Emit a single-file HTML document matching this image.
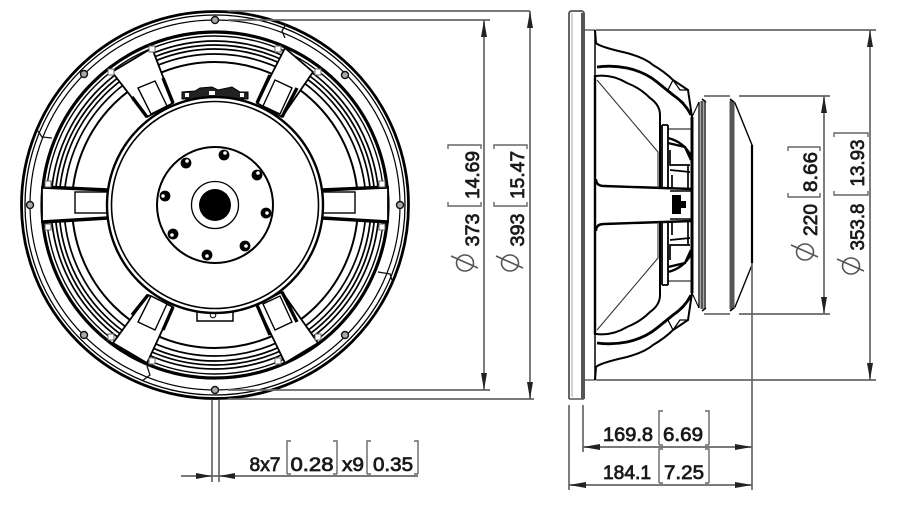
<!DOCTYPE html>
<html><head><meta charset="utf-8"><style>
html,body{margin:0;padding:0;background:#fff}
svg{display:block;filter:blur(.35px)}
text{font-family:"Liberation Sans",sans-serif;font-size:19px;fill:#1a1a1a;stroke:#1a1a1a;stroke-width:.75;text-anchor:middle}
.d{stroke:#666;stroke-width:1.7;fill:none}
.br{stroke:#666;stroke-width:1.4;fill:none}
.a{fill:#222;stroke:none}
.k{stroke:#000;fill:none}
</style></head><body>
<svg width="900" height="509" viewBox="0 0 900 509" xmlns="http://www.w3.org/2000/svg">
<rect width="900" height="509" fill="#fff"/>

<!-- FRONT VIEW -->
<g class="k">
<circle cx="215" cy="205" r="193.5" stroke-width="2.8"/>
<circle cx="215" cy="205" r="190" stroke-width="1.3"/>
<circle cx="215" cy="205" r="185" stroke-width="1.2"/>
<circle cx="215" cy="205" r="173" stroke-width="3.2"/>
<circle cx="215" cy="205" r="169" stroke-width="1.4"/>
<g stroke-width="1.7">
<circle cx="215" cy="205" r="164"/><circle cx="215" cy="205" r="160"/>
<circle cx="215" cy="205" r="156"/><circle cx="215" cy="205" r="151"/>
</g>
<circle cx="215" cy="205" r="143" stroke-width="2"/>
</g>

<!-- seams -->
<g fill="none" stroke="#111" stroke-width="1.3">
<path d="M38 131 L42 137 L52 138"/>
<path d="M286 24 L282 31 L285 38"/>
<path d="M378 272 L390 274 L392 280"/>
<path d="M147 366 L150 375 L142 381"/>
</g>

<!-- outer bolts -->
<g fill="#aaa" stroke="#111" stroke-width="1.4">
<circle cx="30" cy="205" r="3.5"/><circle cx="84" cy="74" r="3.5"/>
<circle cx="215" cy="20" r="3.5"/><circle cx="345" cy="75" r="3.5"/>
<circle cx="400" cy="205" r="3.5"/><circle cx="345" cy="335" r="3.5"/>
<circle cx="215" cy="390" r="3.5"/><circle cx="84" cy="335" r="3.5"/>
</g>

<!-- spokes -->
<g fill="#fff" stroke="#000" stroke-width="1.8">
<polygon points="112,72 152,48 173,103 147,117"/>
<polygon points="285,48 313,72 282,117 257,103"/>
<polygon points="42,187 108,190 108,218 42,222"/>
<polygon points="388,187 322,190 322,218 388,222"/>
<polygon points="113,343 147,363 173,307 148,295"/>
<polygon points="285,363 318,343 282,292 257,305"/>
</g>
<g stroke="#000" stroke-width="3.4" fill="none">
<path d="M42 187 L108 190"/><path d="M42 222 L108 218"/>
<path d="M388 187 L322 190"/><path d="M388 222 L322 218"/>
<path d="M132 97 L147 117"/><path d="M163 78 L173 103"/>
<path d="M297 88 L282 117"/><path d="M270 75 L257 103"/>
<path d="M132 315 L148 295"/><path d="M163 330 L173 307"/>
<path d="M297 322 L282 292"/><path d="M270 335 L257 305"/>
</g>
<g fill="#fff" stroke="#000" stroke-width="1.4">
<rect x="75" y="192" width="33" height="21"/>
<rect x="322" y="192" width="33" height="21"/>
<polygon points="138,88 155,81 167,106 151,114"/>
<polygon points="275,80 292,88 280,114 263,106"/>
<polygon points="138,322 155,330 167,304 151,296"/>
<polygon points="275,330 292,322 280,296 263,304"/>
</g>
<g fill="#fff" stroke="#666" stroke-width="1">
<rect x="45" y="181" width="6" height="6"/><rect x="45" y="224" width="6" height="6"/>
<rect x="379" y="181" width="6" height="6"/><rect x="379" y="224" width="6" height="6"/>
<rect x="108" y="69" width="6" height="6"/><rect x="149" y="46" width="6" height="6"/>
<rect x="275" y="46" width="6" height="6"/><rect x="315" y="69" width="6" height="6"/>
<rect x="108" y="334" width="6" height="6"/><rect x="149" y="358" width="6" height="6"/>
<rect x="275" y="358" width="6" height="6"/><rect x="315" y="334" width="6" height="6"/>
</g>

<!-- terminals -->
<path d="M182 99 L182 92 L195 91 L200 88 L212 87 L218 90 L232 87 L240 92 L248 92 L248 99 Z" fill="#222" stroke="#000" stroke-width="1"/>
<g fill="#fff"><rect x="185" y="93" width="4" height="4"/><rect x="209" y="91" width="6" height="4"/><rect x="240" y="93" width="4" height="4"/></g>
<path d="M197 308 L197 321 L233 321 L233 308" fill="#fff" stroke="#000" stroke-width="1.5"/>
<circle cx="213" cy="315" r="2.8" fill="#fff" stroke="#000" stroke-width="1"/>

<!-- centre -->
<circle cx="215" cy="205" r="108" fill="#fff" stroke="#000" stroke-width="2.4"/>
<circle cx="215" cy="205" r="103.5" fill="#fff" stroke="#000" stroke-width="1.6"/>
<circle cx="215" cy="205" r="58" fill="#fff" stroke="#000" stroke-width="2"/>
<circle cx="215" cy="205" r="23.5" fill="#fff" stroke="#000" stroke-width="1.3"/>
<circle cx="215" cy="205" r="16" fill="#000"/>
<g fill="#000">
<circle cx="224" cy="155" r="5.4"/><circle cx="186" cy="163" r="5.4"/>
<circle cx="257" cy="175" r="5.4"/><circle cx="165" cy="196" r="5.4"/>
<circle cx="266" cy="213" r="5.4"/><circle cx="173" cy="234" r="5.4"/>
<circle cx="245" cy="246" r="5.4"/><circle cx="207" cy="255" r="5.4"/>
</g>
<g fill="#fff">
<circle cx="225" cy="153" r="1.8"/><circle cx="187" cy="161" r="1.8"/>
<circle cx="258" cy="173" r="1.8"/><circle cx="163" cy="196" r="1.8"/>
<circle cx="267" cy="213" r="1.8"/><circle cx="172" cy="235" r="1.8"/>
<circle cx="246" cy="246" r="1.8"/><circle cx="207" cy="256" r="1.8"/>
</g>

<!-- SIDE VIEW -->
<path d="M569 399 L569 14 Q569 11 572 11 L581 11 Q584 11 584 14 L584 399" fill="#fff" stroke="#555" stroke-width="1.8"/>
<line x1="569" y1="399" x2="584" y2="399" stroke="#555" stroke-width="1.5"/>
<rect x="581" y="13" width="4" height="386" fill="#555"/>
<line x1="572" y1="13" x2="572" y2="397" stroke="#aaa" stroke-width="1"/>
<path d="M585 30 L595 30 M585 380 L595 380" stroke="#444" stroke-width="1.2"/>
<line x1="595" y1="30" x2="595" y2="380" stroke="#000" stroke-width="1.5"/>
<line x1="595" y1="75" x2="595" y2="335" stroke="#000" stroke-width="2.4"/>

<g id="half" fill="none" stroke="#000">
<path d="M595 30 L596 43 Q600 47 627 53 Q645 58 653 65 Q665 72 673 80 L688 90 L692 117" stroke-width="2"/>
<path d="M597 67 Q612 65 627 68 Q645 72 657 82 L673 95 Q685 103 691 115" stroke-width="2.8"/>
<path d="M596 76 Q612 74 627 83 Q640 88 650 98 Q660 105 660 115 L660 188" stroke-width="2"/>
<path d="M596 178 Q596 185 604 185 L692 188" stroke-width="2.4" transform="translate(0,1)"/>
<path d="M597 80 L658 152 L658 188" stroke-width="1.1" stroke="#333"/>
<path d="M673 80 L680 90 L688 90 M673 80 L668 90 L684 103" stroke-width="1.3"/>
<path d="M662 125 L662 188 M668 125 L668 188 M662 125 L668 125" stroke-width="1.8"/>
<path d="M668 129 L692 129" stroke-width="1.1"/>
<path d="M668 138 Q684 142 691 156 M668 143 L685 147 L691 160" stroke-width="2.4"/>
<path d="M670 150 L670 165 L690 165 M670 170 L690 172 M672 175 L672 188 M688 165 L688 188" stroke-width="1.7"/>
<path d="M692 117 L692 205" stroke-width="3"/>
<path d="M692 117 L699 102" stroke-width="1.1"/>
<path d="M699 102 L699 205 M705 102 L705 205" stroke-width="1.3"/>
<path d="M702 101 L702 205" stroke="#555" stroke-width="3"/>
<path d="M704 96 L730 96" stroke="#555" stroke-width="1.6"/>
<path d="M730 101 L735 103 L752 145 L752 205" stroke-width="1.4"/>
<path d="M732 101 L732 205" stroke="#555" stroke-width="5"/>
<path d="M702 99 L706 102 M730 99 L734 102" stroke-width="1.5"/>
</g>
<use href="#half" transform="matrix(1 0 0 -1 0 410)"/>
<path d="M752 145 L752 263" stroke="#000" stroke-width="2.2"/>
<!-- motor centre -->
<path d="M672 195 L672 214 L681 214 L681 208 L686 208 L686 201 L681 201 L681 195 Z" fill="#000"/>
<path d="M670 191 L692 191 M670 219 L692 219" stroke="#000" stroke-width="1.6"/>

<!-- DIMENSION LINES -->
<g class="d">
<path d="M228 11 L530 11"/><path d="M228 20 L490 20"/>
<path d="M228 390 L490 390"/><path d="M228 399 L534 399"/>
<path d="M484 20 L484 390"/><path d="M530 11 L530 399"/>
<path d="M596 30 L876 30"/><path d="M596 380 L876 380"/>
<path d="M739 96 L830 96"/><path d="M739 314 L830 314"/>
<path d="M824 96 L824 314"/><path d="M870 30 L870 380"/>
<path d="M752 263 L752 490"/>
<path d="M569 405 L569 490"/><path d="M583 405 L583 452"/>
<path d="M583 447 L752 447"/><path d="M569 485 L752 485"/>
<path d="M212 400 L212 482"/><path d="M219 400 L219 482"/>
<path d="M181 476 L418 476"/>
</g>
<g class="a">
<polygon points="484,20 481,37 487,37"/><polygon points="484,390 481,373 487,373"/>
<polygon points="530,11 527,28 533,28"/><polygon points="530,399 527,382 533,382"/>
<polygon points="824,96 821,113 827,113"/><polygon points="824,314 821,297 827,297"/>
<polygon points="870,30 867,47 873,47"/><polygon points="870,380 867,363 873,363"/>
<polygon points="583,447 600,444 600,450"/><polygon points="752,447 735,444 735,450"/>
<polygon points="569,485 586,482 586,488"/><polygon points="752,485 735,482 735,488"/>
<polygon points="212,476 196,473 196,479"/><polygon points="219,476 235,473 235,479"/>
</g>

<!-- Brackets -->
<g class="br">
<path d="M287 474 L287 441 L291 441 M287 474 L291 474"/><path d="M337 474 L337 441 L333 441 M337 474 L333 474"/>
<path d="M367 474 L367 441 L371 441 M367 474 L371 474"/><path d="M418 474 L418 441 L414 441 M418 474 L414 474"/>
<path d="M659 445 L659 411 L663 411 M659 445 L663 445"/><path d="M709 445 L709 411 L705 411 M709 445 L705 445"/>
<path d="M659 483 L659 449 L663 449 M659 483 L663 483"/><path d="M709 483 L709 449 L705 449 M709 483 L705 483"/>
<path d="M448 149 L448 145 L481 145 L481 149 M448 202 L448 206 L481 206 L481 202"/>
<path d="M494 149 L494 145 L527 145 L527 149 M494 202 L494 206 L527 206 L527 202"/>
<path d="M788 151 L788 147 L820 147 L820 151 M788 193 L788 197 L820 197 L820 193"/>
<path d="M834 137 L834 133 L868 133 L868 137 M834 191 L834 195 L868 195 L868 191"/>
</g>

<!-- Horizontal text -->
<text x="265" y="471" textLength="31" lengthAdjust="spacingAndGlyphs">8x7</text>
<text x="312" y="471" textLength="43" lengthAdjust="spacingAndGlyphs">0.28</text>
<text x="353" y="471" textLength="22" lengthAdjust="spacingAndGlyphs">x9</text>
<text x="393" y="471" textLength="40" lengthAdjust="spacingAndGlyphs">0.35</text>
<text x="628" y="441" textLength="50" lengthAdjust="spacingAndGlyphs">169.8</text>
<text x="683" y="441" textLength="40" lengthAdjust="spacingAndGlyphs">6.69</text>
<text x="627" y="479" textLength="48" lengthAdjust="spacingAndGlyphs">184.1</text>
<text x="684" y="479" textLength="40" lengthAdjust="spacingAndGlyphs">7.25</text>

<!-- Rotated text -->
<g transform="translate(472,230) rotate(-90)"><text x="0" y="7" textLength="33" lengthAdjust="spacingAndGlyphs">373</text></g>
<g transform="translate(472,175) rotate(-90)"><text x="0" y="7" textLength="48" lengthAdjust="spacingAndGlyphs">14.69</text></g>
<g transform="translate(517,230) rotate(-90)"><text x="0" y="7" textLength="33" lengthAdjust="spacingAndGlyphs">393</text></g>
<g transform="translate(517,175) rotate(-90)"><text x="0" y="7" textLength="48" lengthAdjust="spacingAndGlyphs">15.47</text></g>
<g transform="translate(810,220) rotate(-90)"><text x="0" y="7" textLength="32" lengthAdjust="spacingAndGlyphs">220</text></g>
<g transform="translate(810,172) rotate(-90)"><text x="0" y="7" textLength="40" lengthAdjust="spacingAndGlyphs">8.66</text></g>
<g transform="translate(857,227) rotate(-90)"><text x="0" y="7" textLength="47" lengthAdjust="spacingAndGlyphs">353.8</text></g>
<g transform="translate(857,163) rotate(-90)"><text x="0" y="7" textLength="47" lengthAdjust="spacingAndGlyphs">13.93</text></g>

<!-- Phi symbols -->
<g fill="none" stroke="#555" stroke-width="1.6">
<ellipse cx="465" cy="263" rx="8.5" ry="8"/><path d="M451 256 L478 268"/>
<ellipse cx="510" cy="263" rx="8.5" ry="8"/><path d="M496 256 L523 268"/>
<ellipse cx="805" cy="252" rx="8.5" ry="8"/><path d="M791 245 L818 257"/>
<ellipse cx="851" cy="266" rx="8.5" ry="8"/><path d="M837 259 L864 271"/>
</g>
</svg>
</body></html>
